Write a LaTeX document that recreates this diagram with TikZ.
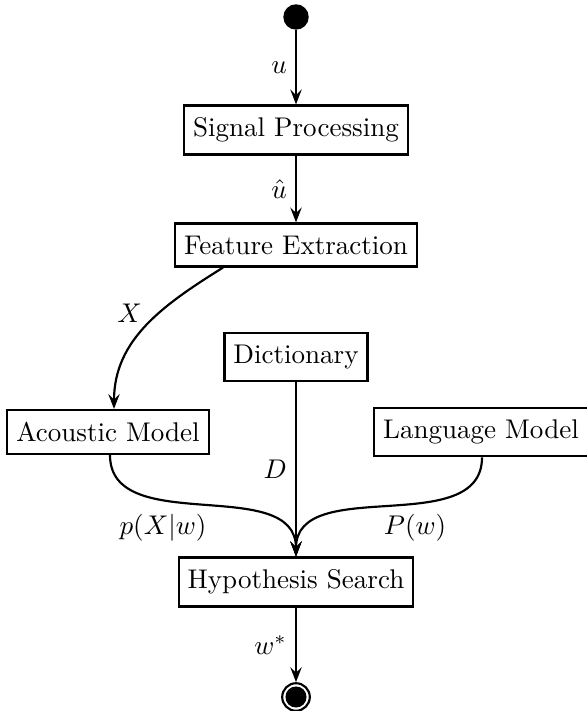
\documentclass[tikz,border=0pt]{standalone}
\usetikzlibrary{arrows.meta}
\begin{document}
\begin{tikzpicture}[x=0.37pt, y=-0.37pt,
  box/.style={draw, thick, rectangle, inner ysep=4.5pt},
  conn/.style={thick, -{Stealth[length=5.5pt, width=4.2pt, inset=2pt]}},
  lbl/.style={inner sep=1pt}]
\useasboundingbox (0,0) rectangle (586,711);
\node[circle, fill=black, inner sep=0pt, minimum size=9.4pt] (start) at (296,17) {};
\node[box] (sp) at (296,130) {Signal Processing};
\node[box] (fe) at (296,245) {Feature Extraction};
\node[box] (dict) at (296,357) {Dictionary};
\node[box] (am) at (108,432) {Acoustic Model};
\node[box] (lm) at (481,432) {Language Model};
\node[box] (hs) at (296,582) {Hypothesis Search};
\node[circle, draw=black, thick, fill=white, inner sep=0pt, minimum size=10.2pt,
  path picture={\fill[black] (path picture bounding box.center) circle (3.9pt);}] (end) at (296,697) {};

\draw[conn] (start) -- node[left, lbl, xshift=-2pt] {$u$} (sp);
\draw[conn] (sp) -- node[left, lbl, xshift=-2pt] {$\hat{u}$} (fe);
\draw[conn] (fe.south -| 223,0) to[out=-148, in=90] node[pos=0.4, left, lbl, xshift=-5pt] {$X$} (am.north -| 114,0);
\draw[conn] (dict) -- node[left, lbl, xshift=-2pt] {$D$} (hs);
\draw[conn] (am.south -| 110,0) to[out=-90, in=90, looseness=1] (hs.north);
\draw[conn] (lm.south -| 482,0) to[out=-90, in=90, looseness=1] (hs.north);
\draw[conn] (hs) -- node[left, lbl, xshift=-2pt] {$w^*$} (end);
\node[lbl] (lp) at (163,528) {$p(X|w)$};
\node[lbl] (lP) at (415,528) {$P(w)$};
\end{tikzpicture}
\end{document}
